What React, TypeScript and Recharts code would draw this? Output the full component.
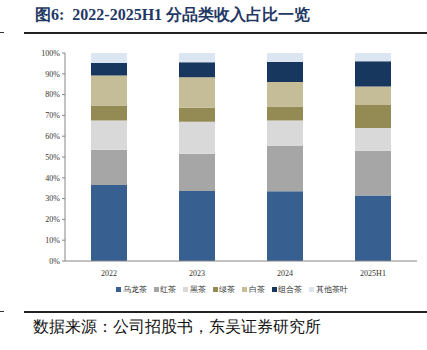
import { BarChart, Bar, XAxis, YAxis } from 'recharts'

const years = ['2022', '2023', '2024', '2025H1']
const oolong = [36.5, 33.7, 33.5, 31.5]
const black = [17.0, 17.9, 21.8, 21.5]
const dark = [14.1, 15.4, 12.3, 10.9]
const green = [7.2, 6.7, 6.7, 11.1]
const white = [14.4, 14.6, 11.8, 8.9]
const combo = [6.0, 7.2, 9.6, 12.1]
const others = [4.8, 4.5, 4.3, 4.0]
const yTicks = [0, 10, 20, 30, 40, 50, 60, 70, 80, 90, 100]

const series = [
  { key: 'oolong', name: '乌龙茶', color: '#375F8F', values: oolong },
  { key: 'black', name: '红茶', color: '#A6A6A6', values: black },
  { key: 'dark', name: '黑茶', color: '#D9D9D9', values: dark },
  { key: 'green', name: '绿茶', color: '#948A54', values: green },
  { key: 'white', name: '白茶', color: '#C4BD97', values: white },
  { key: 'combo', name: '组合茶', color: '#17375E', values: combo },
  { key: 'others', name: '其他茶叶', color: '#DCE6F2', values: others },
]

const data = years.map((year, i) => {
  const row: Record<string, any> = { year, idx: i + 0.5 }
  series.forEach(s => { row[s.key] = s.values[i] })
  return row
})

const serif = '"Liberation Serif", "Times New Roman", serif'

function SeriesLegend() {
  return (
    <div style={{ position: 'absolute', left: 116, top: 284, display: 'flex', fontSize: 8, color: '#333', fontFamily: serif, whiteSpace: 'nowrap' }}>
      {series.map(s => (
        <span key={s.key} style={{ display: 'flex', alignItems: 'center', marginRight: 7 }}>
          <span style={{ width: 5, height: 5, background: s.color, marginRight: 1.5, display: 'inline-block' }} />
          {s.name}
        </span>
      ))}
    </div>
  )
}

export default function App() {
  return (
    <div style={{ position: 'absolute', left: 0, top: 0, width: 427, height: 350, background: '#fff', fontFamily: serif }}>
      <div style={{ position: 'absolute', left: 35, top: 5, fontSize: 16, fontWeight: 'bold', color: '#1F3864', whiteSpace: 'nowrap' }}>
        图6:&nbsp; 2022-2025H1 分品类收入占比一览
      </div>
      <div style={{ position: 'absolute', left: 0, top: 32, width: 4, height: 1, background: '#333' }} />
      <div style={{ position: 'absolute', left: 24, top: 32, width: 403, height: 1.5, background: '#222' }} />
      <BarChart
        width={427}
        height={350}
        data={data}
        barSize={36}
        margin={{ top: 53, right: 10, left: 25, bottom: 50 }}
        style={{ position: 'absolute', left: 0, top: 0 }}
      >
        <XAxis
          xAxisId="grid"
          type="number"
          dataKey="idx"
          domain={[0, 4]}
          ticks={[0, 1, 2, 3, 4]}
          tick={false}
          axisLine={false}
          tickLine={{ stroke: '#868686' }}
          tickSize={4}
          height={0}
        />
        <XAxis
          dataKey="year"
          axisLine={{ stroke: '#868686' }}
          tickLine={false}
          tick={{ fontSize: 8, fill: '#333', fontFamily: serif }}
          height={39}
          tickMargin={3}
        />
        <YAxis
          domain={[0, 100]}
          ticks={yTicks}
          tickFormatter={(v: number) => `${v}%`}
          axisLine={{ stroke: '#868686' }}
          tickLine={{ stroke: '#868686' }}
          tickSize={3}
          tick={{ fontSize: 8, fill: '#333', fontFamily: serif }}
          width={40}
          interval={0}
        />
        {series.map(s => (
          <Bar key={s.key} dataKey={s.key} name={s.name} stackId="a" fill={s.color} isAnimationActive={false} />
        ))}
      </BarChart>
      <SeriesLegend />
      <div style={{ position: 'absolute', left: 0, top: 311, width: 4, height: 1, background: '#333' }} />
      <div style={{ position: 'absolute', left: 24, top: 311, width: 403, height: 1.5, background: '#222' }} />
      <div style={{ position: 'absolute', left: 33, top: 317, fontSize: 16, color: '#111', whiteSpace: 'nowrap' }}>
        数据来源：公司招股书，东吴证券研究所
      </div>
    </div>
  )
}
